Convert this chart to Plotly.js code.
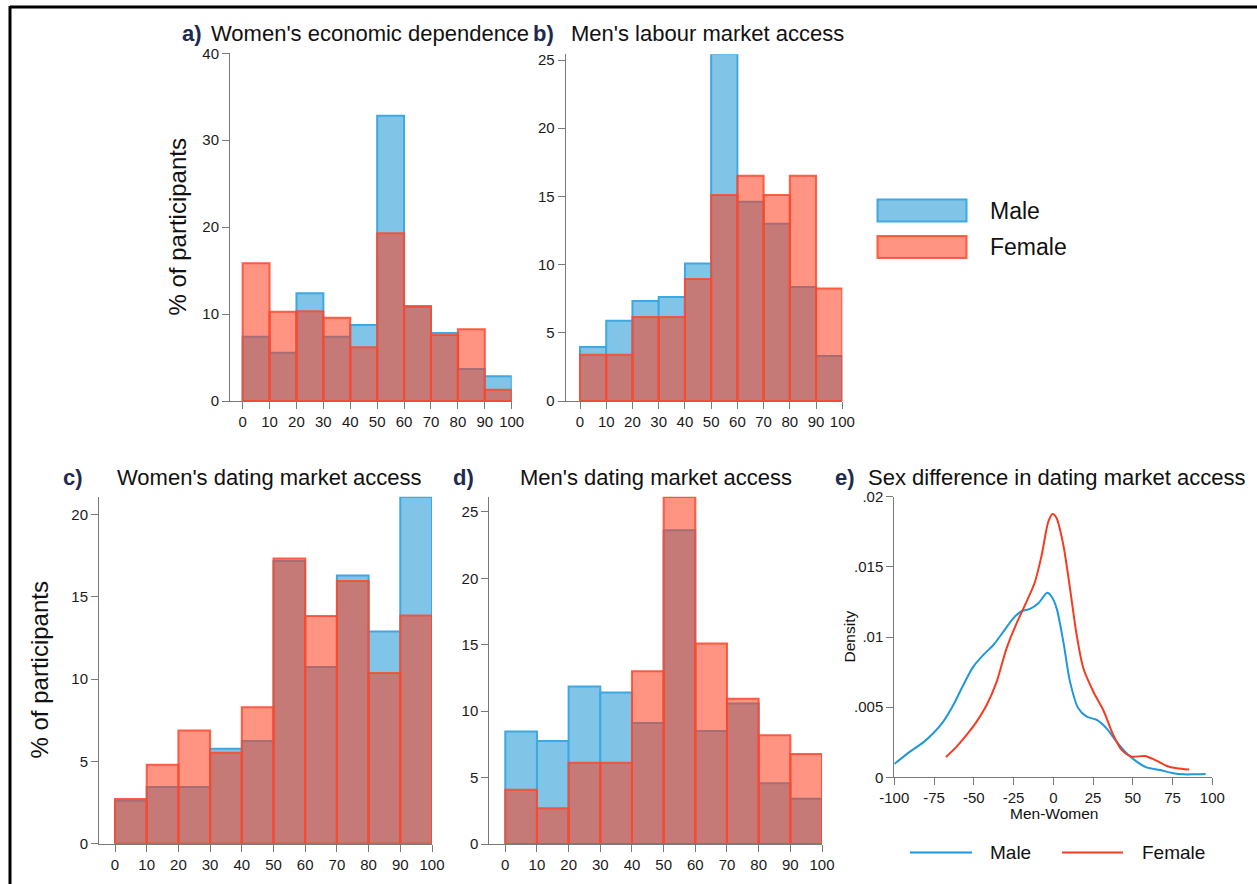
<!DOCTYPE html>
<html>
<head>
<meta charset="utf-8">
<script src="https://cdn.plot.ly/plotly-3.0.1.min.js"></script>
<style>
  html, body { margin: 0; padding: 0; background: #ffffff; }
  #chart { width: 1257px; height: 884px; }
</style>
</head>
<body>
<div id="chart"></div>
<script>
// Histogram bins (left edges, width 10) and % of participants per bin
const binLeft = [0, 10, 20, 30, 40, 50, 60, 70, 80, 90];
const binWidth = 10;

const econMale = [7.40, 5.56, 12.39, 7.40, 8.74, 32.83, 10.81, 7.82, 3.68, 2.84];
const econFemale = [15.84, 10.28, 10.32, 9.59, 6.17, 19.29, 10.93, 7.59, 8.25, 1.30];

const labourMale = [3.96, 5.89, 7.33, 7.62, 10.09, 25.46, 14.61, 13.00, 8.36, 3.30];
const labourFemale = [3.40, 3.40, 6.16, 6.16, 8.94, 15.10, 16.52, 15.10, 16.52, 8.24];

const womenDatingMale = [2.61, 3.44, 3.44, 5.77, 6.23, 17.17, 10.73, 16.28, 12.89, 21.05];
const womenDatingFemale = [2.71, 4.80, 6.88, 5.53, 8.28, 17.31, 13.83, 15.95, 10.36, 13.85];

const menDatingMale = [8.48, 7.76, 11.85, 11.40, 9.11, 23.62, 8.51, 10.57, 4.57, 3.41];
const menDatingFemale = [4.09, 2.69, 6.12, 6.12, 13.00, 26.13, 15.09, 10.94, 8.18, 6.78];

// Kernel density of the sex difference (Men - Women) in dating market access
const maleDiff = [-100, -90.1, -81.8, -75.5, -69.2, -62.9, -56.6, -50.3, -44.0, -37.7, -31.4, -25.2,
  -19.9, -14.7, -9.4, -3.8, -1.0, 2.1, 6.3, 10.5, 15.7, 21.0, 27.3, 33.5, 39.8, 46.1, 52.4, 58.7,
  67.1, 75.5, 81.8, 88.1, 95.8];
const maleDensity = [0.00095, 0.00183, 0.00249, 0.00314, 0.00397, 0.00515, 0.00658, 0.00789, 0.00872,
  0.00943, 0.01038, 0.01133, 0.01185, 0.01200, 0.01240, 0.01316, 0.01287, 0.01204, 0.00967, 0.00682,
  0.00492, 0.00432, 0.00409, 0.00349, 0.00254, 0.00171, 0.00112, 0.00071, 0.00052, 0.00029, 0.00021,
  0.00021, 0.00024];
const femaleDiff = [-67.5, -60.8, -54.5, -48.2, -41.9, -35.6, -29.4, -23.1, -16.8, -11.5, -7.3, -3.1,
  -0.4, 2.1, 6.3, 10.5, 14.7, 18.9, 25.2, 31.4, 37.7, 43.0, 49.3, 57.6, 63.9, 71.3, 77.6, 85.5];
const femaleDensity = [0.00145, 0.00219, 0.00302, 0.00397, 0.00515, 0.00682, 0.00919, 0.01097, 0.01252,
  0.01394, 0.01584, 0.01822, 0.01876, 0.01846, 0.01656, 0.01347, 0.01014, 0.00777, 0.00610, 0.00480,
  0.00302, 0.00195, 0.00147, 0.00152, 0.00124, 0.00081, 0.00064, 0.00055];

const histTicks = [0, 10, 20, 30, 40, 50, 60, 70, 80, 90, 100];
const densityTickVals = [0, 0.005, 0.01, 0.015, 0.02];
const densityTickText = ['0', '.005', '.01', '.015', '.02'];
const diffTickVals = [-100, -75, -50, -25, 0, 25, 50, 75, 100];
const diffTickText = ['-100', '-75', '-50', '-25', '0', '25', '50', '75', '100'];

const seriesNames = ['Male', 'Female'];

// ---- styling ----
const W = 1257, H = 884;
const FONT = 'Arial, "Liberation Sans", Helvetica, sans-serif';
const maleFill = '#80c5e8', maleEdge = '#3ea8e0';
const femaleFill = 'rgba(255,60,28,0.55)', femaleEdge = 'rgba(255,72,44,0.85)';
const maleLine = '#1e98d8', femaleLine = '#f43c22';
const axisGrey = '#7a7a7a';
const letterColor = '#1d2b52';

// pixel -> paper helpers for layout placement
const px = x => x / W;
const py = y => 1 - y / H;

function histPair(male, female, xa, ya) {
  return [
    { type: 'bar', x: binLeft, y: male, width: binWidth, offset: 0, name: seriesNames[0],
      xaxis: xa, yaxis: ya, cliponaxis: false, showlegend: false,
      marker: { color: maleFill, line: { color: maleEdge, width: 2 } } },
    { type: 'bar', x: binLeft, y: female, width: binWidth, offset: 0, name: seriesNames[1],
      xaxis: xa, yaxis: ya, cliponaxis: false, showlegend: false,
      marker: { color: femaleFill, line: { color: femaleEdge, width: 2 } } }
  ];
}

const data = [
  ...histPair(econMale, econFemale, 'x', 'y'),
  ...histPair(labourMale, labourFemale, 'x2', 'y2'),
  ...histPair(womenDatingMale, womenDatingFemale, 'x3', 'y3'),
  ...histPair(menDatingMale, menDatingFemale, 'x4', 'y4'),
  { type: 'scatter', mode: 'lines', x: maleDiff, y: maleDensity, name: seriesNames[0],
    xaxis: 'x5', yaxis: 'y5', showlegend: false, cliponaxis: false,
    line: { color: maleLine, width: 2, shape: 'spline', smoothing: 0.8 } },
  { type: 'scatter', mode: 'lines', x: femaleDiff, y: femaleDensity, name: seriesNames[1],
    xaxis: 'x5', yaxis: 'y5', showlegend: false, cliponaxis: false,
    line: { color: femaleLine, width: 2, shape: 'spline', smoothing: 0.8 } }
];

const baseAxis = {
  showgrid: false, zeroline: false, showline: true, linecolor: axisGrey, linewidth: 1,
  ticks: 'outside', ticklen: 7, tickwidth: 1, tickcolor: axisGrey,
  tickfont: { family: FONT, size: 15, color: '#1a1a1a' }, fixedrange: true
};
function xAx(domain, range, anchor, extra) {
  return Object.assign({}, baseAxis, { domain, range, anchor, tickmode: 'array', tickvals: histTicks }, extra || {});
}
function yAx(domain, range, anchor, dtick, extra) {
  return Object.assign({}, baseAxis, { domain, range, anchor, tickmode: 'linear', tick0: 0, dtick }, extra || {});
}

const layout = {
  width: W, height: H,
  margin: { l: 0, r: 0, t: 0, b: 0 },
  paper_bgcolor: '#ffffff', plot_bgcolor: 'rgba(0,0,0,0)',
  barmode: 'overlay', showlegend: false,
  font: { family: FONT, color: '#111' },
  xaxis:  xAx([px(230), px(511.7)], [-4.7, 100], 'y'),
  yaxis:  yAx([py(401), py(53.3)], [0, 40], 'x', 10),
  xaxis2: xAx([px(565.7), px(842.3)], [-5.45, 100], 'y2'),
  yaxis2: yAx([py(401), py(54.3)], [0, 25.42], 'x2', 5),
  xaxis3: xAx([px(99), px(432)], [-5.05, 100], 'y3'),
  yaxis3: yAx([py(843.7), py(496.7)], [0, 21.07], 'x3', 5),
  xaxis4: xAx([px(489.3), px(822)], [-5.05, 100], 'y4'),
  yaxis4: yAx([py(844), py(496.7)], [0, 26.15], 'x4', 5),
  xaxis5: xAx([px(894.3), px(1212.3)], [-100, 100], 'y5', { tickvals: diffTickVals, ticktext: diffTickText }),
  yaxis5: Object.assign({}, baseAxis, { domain: [py(777.3), py(496.7)], range: [0, 0.02], anchor: 'x5',
    tickmode: 'array', tickvals: densityTickVals, ticktext: densityTickText }),
  shapes: [
    // outer frame
    { type: 'line', xref: 'paper', yref: 'paper', x0: px(10), x1: px(1262), y0: py(7), y1: py(7),
      line: { color: '#000', width: 3 } },
    { type: 'line', xref: 'paper', yref: 'paper', x0: px(10), x1: px(10), y0: py(6), y1: py(890),
      line: { color: '#000', width: 3 } },
    // histogram legend keys
    { type: 'rect', xref: 'paper', yref: 'paper', x0: px(877.5), x1: px(966.5), y0: py(199.5), y1: py(221.5),
      fillcolor: maleFill, line: { color: maleEdge, width: 2 } },
    { type: 'rect', xref: 'paper', yref: 'paper', x0: px(877.5), x1: px(966.5), y0: py(236), y1: py(258),
      fillcolor: femaleFill, line: { color: femaleEdge, width: 2 } },
    // density legend keys
    { type: 'line', xref: 'paper', yref: 'paper', x0: px(910), x1: px(972), y0: py(852.5), y1: py(852.5),
      line: { color: maleLine, width: 2 } },
    { type: 'line', xref: 'paper', yref: 'paper', x0: px(1062), x1: px(1123), y0: py(852.5), y1: py(852.5),
      line: { color: femaleLine, width: 2 } }
  ],
  annotations: []
};

function note(text, x, y, size, opts) {
  layout.annotations.push(Object.assign({
    text, xref: 'paper', yref: 'paper', x: px(x), y: py(y), showarrow: false,
    xanchor: 'left', yanchor: 'middle', font: { family: FONT, size, color: '#111' }
  }, opts || {}));
}

// panel letters and titles
const letters = [['a)', 179.5, 34], ['b)', 530.5, 34], ['c)', 60.5, 478], ['d)', 450.5, 478], ['e)', 832.5, 478]];
letters.forEach(([t, x, y]) => note('<b>' + t + '</b>', x, y, 22, { font: { family: FONT, size: 22, color: letterColor } }));
note("Women's economic dependence", 209, 34, 22);
note("Men's labour market access", 568.5, 34, 22);
note("Women's dating market access", 114.5, 478, 22);
note("Men's dating market access", 517.5, 478, 22);
note('Sex difference in dating market access', 865.5, 478, 22);

// axis titles
note('% of participants', 177, 227.5, 24, { xanchor: 'center', textangle: -90 });
note('% of participants', 39, 670.5, 24, { xanchor: 'center', textangle: -90 });
note('Density', 848.5, 637, 15.5, { xanchor: 'center', textangle: -90 });
note('Men-Women', 1053.5, 813.5, 15.5, { xanchor: 'center' });

// legend labels
note(seriesNames[0], 987.5, 210.5, 23);
note(seriesNames[1], 987.5, 247, 23);
note(seriesNames[0], 988, 852.5, 19);
note(seriesNames[1], 1139.5, 852.5, 19);

Plotly.newPlot('chart', data, layout, { displayModeBar: false, staticPlot: true });
</script>
</body>
</html>
